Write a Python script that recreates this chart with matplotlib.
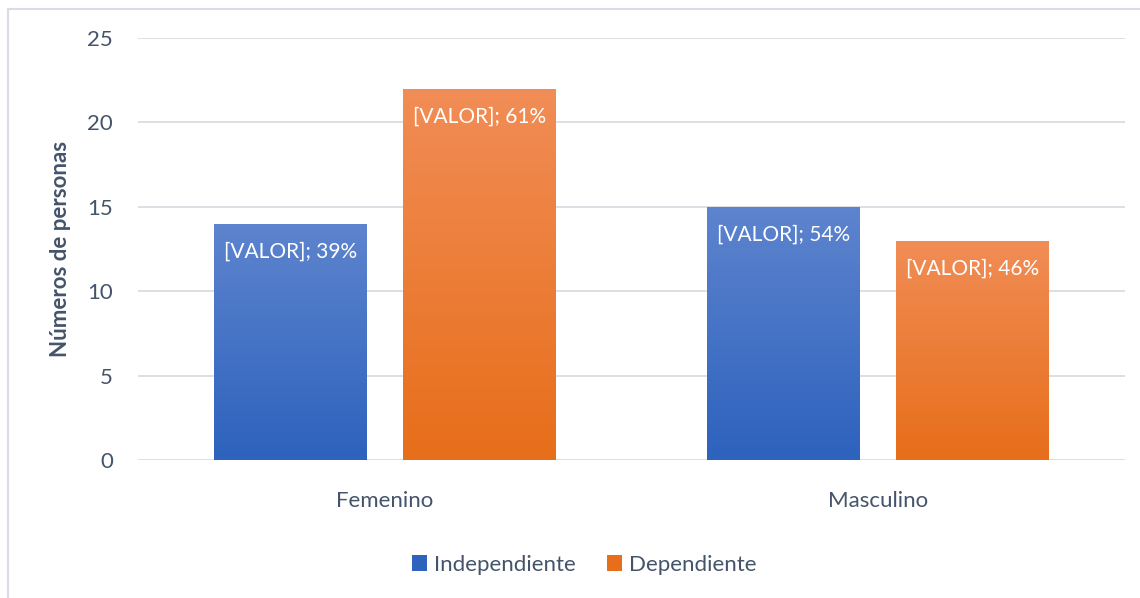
import matplotlib
matplotlib.use('agg')
import matplotlib.pyplot as plt
import numpy as np
from matplotlib.colors import LinearSegmentedColormap
from matplotlib.lines import Line2D
from matplotlib.patches import Patch

categories = ["Femenino", "Masculino"]
series_names = ["Independiente", "Dependiente"]
independiente = [14, 15]
dependiente = [22, 13]
labels_indep = ["[VALOR]; 39%", "[VALOR]; 54%"]
labels_dep = ["[VALOR]; 61%", "[VALOR]; 46%"]
y_ticks = [0, 5, 10, 15, 20, 25]

text_color = "#44546A"
grid_color = "#D9DDE3"
blue_top, blue_bottom = "#5E84CE", "#2D62BD"
orange_top, orange_bottom = "#F18D56", "#E76E1A"

plt.rcParams['font.family'] = ['Lato', 'DejaVu Sans']

fig = plt.figure(figsize=(11.4, 5.98), dpi=100)
ax = fig.add_axes([138 / 1140, 1 - 460 / 598, 987 / 1140, 422 / 598])

bar_w = 0.31
offset = 0.1915
x = np.arange(len(categories))


def gradient_bar(ax, xc, height, top, bottom, label):
    cmap = LinearSegmentedColormap.from_list("g", [bottom, top])
    bars = ax.bar(xc, height, width=bar_w, color="none", zorder=2)
    rect = bars[0]
    grad = np.linspace(0, 1, 256).reshape(-1, 1)
    im = ax.imshow(grad, cmap=cmap, aspect="auto", origin="lower",
                   extent=[xc - bar_w / 2, xc + bar_w / 2, 0, height],
                   zorder=2)
    im.set_clip_path(rect)
    ax.annotate(label, (xc, height), xytext=(0, -28),
                textcoords="offset pixels", ha="center", va="center",
                color="white", fontsize=15, zorder=3)


for i in x:
    gradient_bar(ax, i - offset, independiente[i], blue_top, blue_bottom,
                 labels_indep[i])
    gradient_bar(ax, i + offset, dependiente[i], orange_top, orange_bottom,
                 labels_dep[i])

ax.set_xlim(-0.5, 1.5)
ax.set_ylim(0, 25)
ax.set_yticks(y_ticks)
ax.set_xticks(x)
ax.set_xticklabels(categories)
ax.yaxis.grid(True, color=grid_color, linewidth=1.3, zorder=0)
ax.set_axisbelow(True)
for s in ax.spines.values():
    s.set_visible(False)
ax.tick_params(axis="both", length=0, colors=text_color, labelsize=16)
ax.tick_params(axis="y", pad=18)
ax.tick_params(axis="x", pad=22)
ax.set_ylabel("Números de personas", fontsize=16, fontweight="bold",
              color=text_color, labelpad=12)

handles = [Patch(facecolor=blue_bottom, edgecolor="none"),
           Patch(facecolor=orange_bottom, edgecolor="none")]
fig.legend(handles, series_names, loc="center", bbox_to_anchor=(584 / 1140, 1 - 565 / 598),
           ncol=2, frameon=False, fontsize=16, labelcolor=text_color,
           handlelength=0.7, handleheight=0.7, handletextpad=0.3,
           columnspacing=1.4)

# outer chart frame
fig.add_artist(Line2D([8 / 1140, 8 / 1140], [0, 1 - 9 / 598],
                      color=grid_color, linewidth=1.5))
fig.add_artist(Line2D([8 / 1140, 1], [1 - 9 / 598, 1 - 9 / 598],
                      color=grid_color, linewidth=1.5))

fig.savefig("out.png", dpi=100)
